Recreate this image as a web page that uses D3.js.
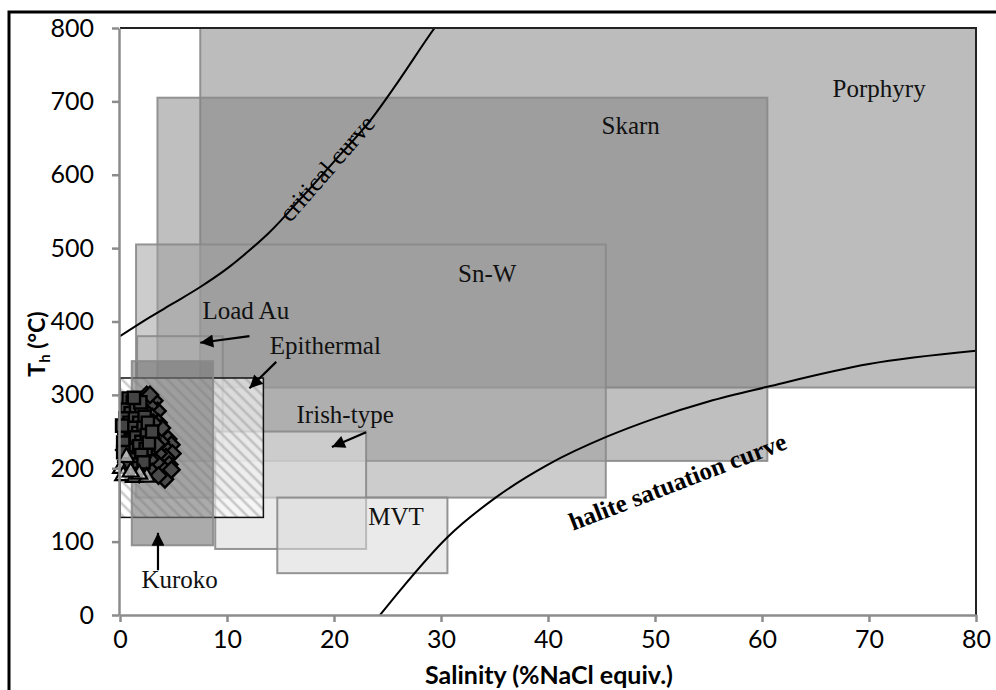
<!DOCTYPE html>
<html>
<head>
<meta charset="utf-8">
<script src="https://cdn.jsdelivr.net/npm/d3@7"></script>
<style>
  html, body { margin: 0; padding: 0; background: #fff; }
  svg { display: block; }
</style>
</head>
<body>
<svg id="chart" width="996" height="690"></svg>
<script>
// Fluid-inclusion fields of ore-deposit types: salinity vs homogenization temperature
const deposits = ["Porphyry", "Skarn", "Sn-W", "Load Au", "Irish-type", "MVT", "Epithermal", "Kuroko"];
const salMin = [7.5, 3.5, 1.5, 1.6, 8.9, 14.7, 0, 1.1];
const salMax = [80, 60.5, 45.4, 9.6, 23, 30.6, 13.4, 8.7];
const thMin = [310, 210, 160, 210, 90, 57, 133, 95];
const thMax = [800, 705, 505, 380, 250, 160, 323, 346];

// Deposit name labels (left edge, baseline) in data units
const labelSal = [66.6, 45, 31.6, 7.7, 16.5, 23.2, 14.0, 2.0];
const labelTh = [706, 655, 454, 403, 262, 123, 356, 37];

// Arrows pointing from a label to its field
const arrowNames = ["Load Au", "Epithermal", "Irish-type", "Kuroko"];
const arrowFromSal = [12.1, 14.6, 23.0, 3.55];
const arrowFromTh = [380, 345, 249, 61];
const arrowToSal = [7.5, 12.1, 19.8, 3.55];
const arrowToTh = [371, 309, 229, 112];

// Critical curve of H2O-NaCl
const criticalSal = [0, 2.8, 5, 7.5, 10, 12.1, 14, 16.8, 20, 23.6, 26, 29.4, 30];
const criticalTh = [380, 406, 425, 447, 472, 497, 522, 566, 618, 678, 727, 800, 812];

// Halite saturation curve
const haliteSal = [24.3, 26.2, 30.6, 35.2, 40, 45.5, 50, 55, 60.5, 70, 80];
const haliteTh = [0, 34, 106, 161, 205, 243, 268, 291, 311, 342, 360];

// Measured fluid inclusions (salinity, Th)
const squareSal = [0.8, 1.2, 0.6, 1.0, 1.5, 2.0, 0.5, 0.9, 1.4, 1.8, 2.3, 0.4, 0.8, 1.3, 1.7, 2.2, 2.6, 0.5, 1.0, 1.5, 2.0, 2.5, 0.7, 1.2, 1.8, 2.4, 0.9, 1.4, 2.0, 2.7, 3.0, 1.1, 1.6, 2.2, 0.3, 1.9, 1.3, 0.2, 0.3, 0.6, 1.1];
const squareTh = [295, 290, 280, 275, 283, 278, 268, 262, 268, 262, 270, 255, 250, 255, 248, 255, 262, 242, 238, 242, 236, 245, 228, 225, 230, 226, 215, 212, 218, 235, 250, 205, 200, 208, 235, 290, 296, 258, 222, 205, 190];

const diamondSal = [2.5, 3.2, 3.5, 2.8, 3.0, 2.2, 3.6, 2.6, 3.3, 3.9, 4.5, 4.8, 4.2, 3.8, 4.9, 4.3, 3.6, 3.0, 2.4, 4.6, 4.0, 4.2, 3.4, 2.8, 2.2, 1.8, 3.0, 3.6, 4.8, 2.0, 1.6, 1.2, 0.8, 1.0, 1.6, 2.4, 3.0, 3.4, 1.4, 2.8, 0.4, 0.6, 3.9, 3.1, 2.1];
const diamondTh = [300, 292, 278, 285, 270, 280, 262, 258, 250, 245, 240, 232, 228, 236, 220, 215, 220, 228, 232, 205, 200, 185, 208, 212, 200, 192, 195, 190, 198, 265, 258, 248, 240, 222, 228, 246, 240, 232, 275, 300, 225, 210, 255, 262, 215];

const triangleSal = [0.1, 0.3, 1.4, 2.5, 1.8, 0.6, 1.0];
const triangleTh = [200, 190, 188, 188, 192, 215, 195];

const xTicks = [0, 10, 20, 30, 40, 50, 60, 70, 80];
const yTicks = [0, 100, 200, 300, 400, 500, 600, 700, 800];

// Field appearance
const fieldStyle = {
  "Porphyry":   { fill: "#808080", opacity: 0.53 },
  "Skarn":      { fill: "#808080", opacity: 0.5 },
  "Sn-W":       { fill: "#a0a0a0", opacity: 0.54 },
  "Load Au":    { fill: "#a8a8a8", opacity: 0.35 },
  "Irish-type": { fill: "#dddddd", opacity: 0.63 },
  "MVT":        { fill: "#d8d8d8", opacity: 0.55 },
  "Epithermal": { fill: "#ffffff", opacity: 0.57 },
  "Kuroko":     { fill: "#777777", opacity: 0.62 }
};

const svg = d3.select("#chart");
const x = d3.scaleLinear().domain([0, 80]).range([120, 976]);
const y = d3.scaleLinear().domain([0, 800]).range([615, 28]);

const defs = svg.append("defs");
defs.append("clipPath").attr("id", "plotClip")
  .append("rect").attr("x", x(0)).attr("y", y(800))
  .attr("width", x(80) - x(0)).attr("height", y(0) - y(800));

const hatch = defs.append("pattern").attr("id", "hatch")
  .attr("patternUnits", "userSpaceOnUse").attr("width", 8).attr("height", 8)
  .attr("patternTransform", "rotate(-45)");
hatch.append("line").attr("x1", 2).attr("y1", 0).attr("x2", 2).attr("y2", 8)
  .attr("stroke", "#9a9a9a").attr("stroke-width", 2.6).attr("stroke-opacity", 0.5);

defs.append("marker").attr("id", "arrowHead")
  .attr("viewBox", "0 0 10 10").attr("refX", 10).attr("refY", 5)
  .attr("markerUnits", "userSpaceOnUse").attr("markerWidth", 16).attr("markerHeight", 13)
  .attr("orient", "auto")
  .append("path").attr("d", "M0,0 L10,5 L0,10 Z").attr("fill", "#000");

// Outer figure frame
svg.append("rect").attr("x", 9).attr("y", 12).attr("width", 1010).attr("height", 700)
  .attr("fill", "none").attr("stroke", "#000").attr("stroke-width", 3);

const plot = svg.append("g").attr("clip-path", "url(#plotClip)");

// Deposit fields
const fields = deposits.map((name, i) => ({
  name, x0: salMin[i], x1: salMax[i], y0: thMin[i], y1: thMax[i]
}));

fields.forEach(f => {
  const st = fieldStyle[f.name];
  const g = plot.append("g");
  const w = x(f.x1) - x(f.x0), h = y(f.y0) - y(f.y1);
  g.append("rect")
    .attr("x", x(f.x0)).attr("y", y(f.y1)).attr("width", w).attr("height", h)
    .attr("fill", st.fill).attr("fill-opacity", st.opacity)
    .attr("stroke", "none");
  if (f.name === "Epithermal") {
    g.append("rect")
      .attr("x", x(f.x0)).attr("y", y(f.y1)).attr("width", w).attr("height", h)
      .attr("fill", "url(#hatch)");
  }
  g.append("rect")
    .attr("x", x(f.x0)).attr("y", y(f.y1)).attr("width", w).attr("height", h)
    .attr("fill", "none")
    .attr("stroke", f.name === "Epithermal" ? "#111" : "#8a8a8a")
    .attr("stroke-opacity", f.name === "Epithermal" ? 1 : 0.9)
    .attr("stroke-width", f.name === "Epithermal" ? 1.5 : 2);
});

// Curves
const line = d3.line().x(d => x(d[0])).y(d => y(d[1])).curve(d3.curveMonotoneX);
plot.append("path")
  .datum(criticalSal.map((s, i) => [s, criticalTh[i]]))
  .attr("d", line).attr("fill", "none").attr("stroke", "#000").attr("stroke-width", 2);
plot.append("path")
  .datum(haliteSal.map((s, i) => [s, haliteTh[i]]))
  .attr("d", line).attr("fill", "none").attr("stroke", "#000").attr("stroke-width", 2);

// Inclusion measurements
const sq = d3.symbol().type(d3.symbolSquare).size(150);
const dm = d3.symbol().type(d3.symbolSquare).size(135);
const tri = d3.symbol().type(d3.symbolTriangle).size(110);
const pts = svg.append("g");
diamondSal.forEach((s, i) => {
  pts.append("path").attr("d", dm())
    .attr("transform", `translate(${x(s)},${y(diamondTh[i])}) rotate(45)`)
    .attr("fill", "#4a4a4a").attr("stroke", "#000").attr("stroke-width", 2.4);
});
squareSal.forEach((s, i) => {
  pts.append("path").attr("d", sq())
    .attr("transform", `translate(${x(s)},${y(squareTh[i])})`)
    .attr("fill", "#444").attr("stroke", "#000").attr("stroke-width", 2.4);
});
triangleSal.forEach((s, i) => {
  pts.append("path").attr("d", tri())
    .attr("transform", `translate(${x(s)},${y(triangleTh[i])})`)
    .attr("fill", "#fff").attr("fill-opacity", 0.6).attr("stroke", "#000").attr("stroke-width", 2.2);
});

// Plot frame (top and right)
svg.append("path")
  .attr("d", `M${x(0)},${y(800)} H${x(80)} V${y(0)}`)
  .attr("fill", "none").attr("stroke", "#222").attr("stroke-width", 2);

// Axes
const axisColor = "#8c8c8c";
const xAxis = svg.append("g").attr("transform", `translate(0,${y(0)})`)
  .call(d3.axisBottom(x).tickValues(xTicks).tickSize(7).tickSizeOuter(0).tickPadding(8));
const yAxis = svg.append("g").attr("transform", `translate(${x(0) - 1},0)`)
  .call(d3.axisLeft(y).tickValues(yTicks).tickSize(7).tickSizeOuter(0).tickPadding(18));
[xAxis, yAxis].forEach(a => {
  a.select(".domain").attr("stroke", axisColor).attr("stroke-width", 2.5);
  a.selectAll(".tick line").attr("stroke", axisColor).attr("stroke-width", 2.5);
  a.selectAll(".tick text").attr("fill", "#000")
    .style("font-family", "Lato, 'Open Sans', sans-serif").style("font-size", "25px");
});

// Axis titles
svg.append("text")
  .attr("x", 549).attr("y", 684).attr("text-anchor", "middle")
  .style("font-family", "Lato, 'Open Sans', sans-serif").style("font-size", "25px").style("font-weight", "bold")
  .text("Salinity (%NaCl equiv.)");
const yt = svg.append("text")
  .attr("transform", "translate(45,344) rotate(-90)").attr("text-anchor", "middle")
  .style("font-family", "Lato, 'Open Sans', sans-serif").style("font-size", "23px").style("font-weight", "bold");
yt.append("tspan").text("T");
yt.append("tspan").attr("dy", 5).style("font-size", "15px").text("h");
yt.append("tspan").attr("dy", -5).text(" (°C)");

// Field labels
const serif = "'Liberation Serif', 'Times New Roman', serif";
deposits.forEach((name, i) => {
  svg.append("text").attr("x", x(labelSal[i])).attr("y", y(labelTh[i]))
    .style("font-family", serif).style("font-size", "25px").attr("fill", "#111")
    .text(name);
});

// Arrows
arrowNames.forEach((name, i) => {
  svg.append("line")
    .attr("x1", x(arrowFromSal[i])).attr("y1", y(arrowFromTh[i]))
    .attr("x2", x(arrowToSal[i])).attr("y2", y(arrowToTh[i]))
    .attr("stroke", "#000").attr("stroke-width", 2.2)
    .attr("marker-end", "url(#arrowHead)");
});

// Curve labels
svg.append("text")
  .attr("transform", `translate(${x(19.4)},${y(608)}) rotate(-49)`)
  .attr("text-anchor", "middle").attr("dy", "0.3em")
  .style("font-family", serif).style("font-size", "25px").attr("fill", "#000")
  .text("critical curve");
svg.append("text")
  .attr("transform", `translate(${x(52.4)},${y(171)}) rotate(-21)`)
  .attr("text-anchor", "middle")
  .style("font-family", serif).style("font-size", "25px").style("font-weight", "bold").attr("fill", "#000")
  .text("halite satuation curve");
</script>
</body>
</html>
